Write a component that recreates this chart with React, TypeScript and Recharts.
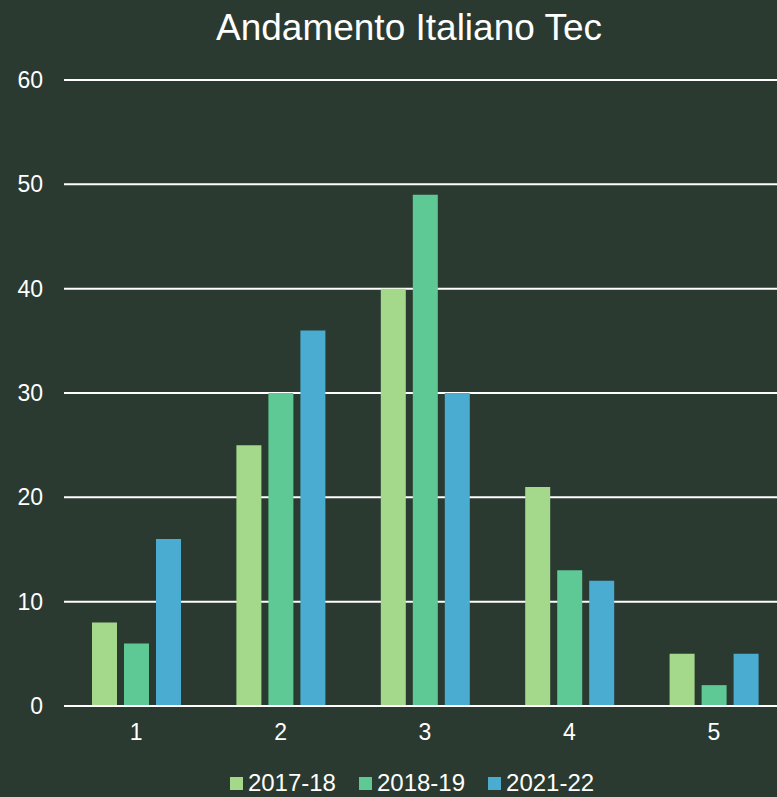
import { BarChart, Bar, XAxis, YAxis, CartesianGrid, Legend } from "recharts";

const categories = ["1", "2", "3", "4", "5"];
const s2017 = [8, 25, 40, 21, 5];
const s2018 = [6, 30, 49, 13, 2];
const s2021 = [16, 36, 30, 12, 5];
const yTicks = [0, 10, 20, 30, 40, 50, 60];

const seriesNames = ["2017-18", "2018-19", "2021-22"];
const seriesColors = ["#a4d98b", "#5ec994", "#4aacd0"];

const data = categories.map((c, i) => ({
  name: c,
  "2017-18": s2017[i],
  "2018-19": s2018[i],
  "2021-22": s2021[i],
}));

const font = "'Liberation Sans', Arial, sans-serif";

function LegendBox() {
  return (
    <div
      style={{
        display: "flex",
        justifyContent: "center",
        alignItems: "center",
        color: "#ffffff",
        fontSize: 24,
        fontFamily: font,
        paddingLeft: 38,
      }}
    >
      {seriesNames.map((n, i) => (
        <div
          key={n}
          style={{
            display: "flex",
            alignItems: "center",
            marginRight: i < seriesNames.length - 1 ? 23 : 0,
          }}
        >
          <span
            style={{
              display: "inline-block",
              width: 13,
              height: 13,
              background: seriesColors[i],
              marginRight: 5,
            }}
          />
          <span>{n}</span>
        </div>
      ))}
    </div>
  );
}

export default function App() {
  return (
    <div
      style={{
        position: "fixed",
        left: 0,
        top: 0,
        width: 777,
        height: 797,
        overflow: "hidden",
        background: "#2a3a31",
        fontFamily: font,
      }}
    >
      <div
        style={{
          position: "absolute",
          top: 7,
          left: 0,
          width: 818,
          textAlign: "center",
          color: "#ffffff",
          fontSize: 37,
        }}
      >
        Andamento Italiano Tec
      </div>
      <BarChart
        width={777}
        height={797}
        data={data}
        margin={{ top: 80, right: -9, left: 0, bottom: 0 }}
        barSize={25}
        barGap={7}
      >
        <CartesianGrid
          horizontal
          vertical={false}
          stroke="#ffffff"
          strokeWidth={2}
        />
        <XAxis
          dataKey="name"
          axisLine={{ stroke: "#ffffff", strokeWidth: 2 }}
          tickLine={false}
          tickSize={0}
          tickMargin={18}
          height={63}
          tick={{ fill: "#ffffff", fontSize: 23, fontFamily: font }}
        />
        <YAxis
          domain={[0, 60]}
          ticks={yTicks}
          axisLine={false}
          tickLine={false}
          tickSize={0}
          tickMargin={21}
          width={64}
          tick={{ fill: "#ffffff", fontSize: 23, fontFamily: font }}
        />
        <Legend content={() => <LegendBox />} />
        <Bar dataKey="2017-18" fill={seriesColors[0]} isAnimationActive={false} />
        <Bar dataKey="2018-19" fill={seriesColors[1]} isAnimationActive={false} />
        <Bar dataKey="2021-22" fill={seriesColors[2]} isAnimationActive={false} />
      </BarChart>
    </div>
  );
}
